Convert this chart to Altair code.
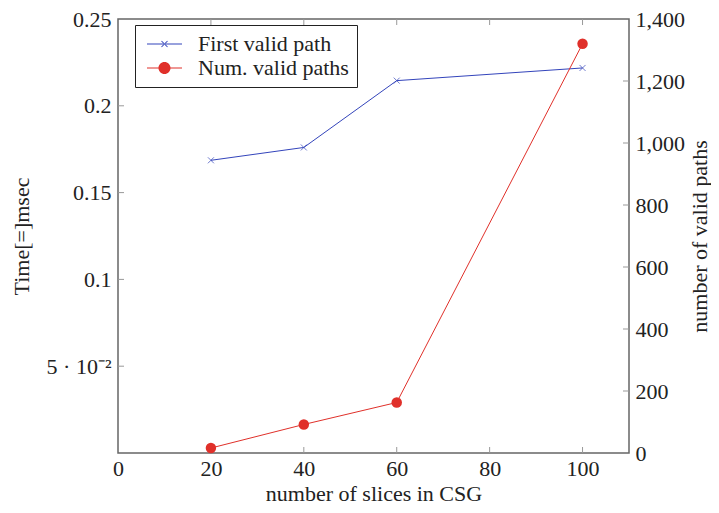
import altair as alt
import pandas as pd

# ---- data ----
slices = [20, 40, 60, 100]
first_valid_time = [0.1686, 0.1760, 0.2145, 0.2218]
num_valid_paths = [16, 92, 163, 1320]
series_names = ["First valid path", "Num. valid paths"]
series_colors = ["#3344bb", "#e0302a"]

x_ticks = [0, 20, 40, 60, 80, 100]
left_ticks = [0.05, 0.1, 0.15, 0.2, 0.25]
right_ticks = [0, 200, 400, 600, 800, 1000, 1200, 1400]

FONT = "Liberation Serif"
FS = 22
W, H = 511, 434
TICK_COLOR = "#999999"

blue_df = pd.DataFrame({"x": slices, "y": first_valid_time})
red_df = pd.DataFrame({"x": slices, "y": num_valid_paths})
legend_df = pd.DataFrame({"series": series_names, "x": [-50, -50], "y": [-1, -1]})

xscale = alt.Scale(domain=[0, 110], nice=False, zero=False)
yl_scale = alt.Scale(domain=[0, 0.25], nice=False)
yr_scale = alt.Scale(domain=[0, 1400], nice=False)

x_axis = alt.Axis(values=x_ticks, ticks=False, tickSize=0, domain=False, grid=False,
                  labelFlush=False,
                  labelFont=FONT, labelFontSize=FS, labelColor="#222", labelPadding=5,
                  title="number of slices in CSG", titleFont=FONT, titleFontSize=FS,
                  titleFontWeight="normal", titleColor="#222", titleX=W / 2, titleY=40,
                  titleBaseline="middle", titleAlign="center")

yl_axis = alt.Axis(values=left_ticks, ticks=False, tickSize=0, domain=False, grid=False,
                   labelFlush=False,
                   labelExpr="datum.value == 0.05 ? '5 · 10⁻²' : format(datum.value, '.2~f')",
                   labelFont=FONT, labelFontSize=FS, labelColor="#222", labelPadding=7,
                   labelBaseline="middle",
                   title="Time[=]msec", titleFont=FONT, titleFontSize=FS,
                   titleFontWeight="normal", titleColor="#222", titleAngle=270,
                   titleX=-97, titleY=H / 2, titleBaseline="middle", titleAlign="center")

yr_axis = alt.Axis(values=right_ticks, ticks=False, tickSize=0, domain=False, grid=False,
                   labelFlush=False, format=",d", orient="right",
                   labelFont=FONT, labelFontSize=FS, labelColor="#222", labelPadding=6,
                   labelBaseline="middle",
                   title="number of valid paths", titleFont=FONT, titleFontSize=FS,
                   titleFontWeight="normal", titleColor="#222", titleAngle=270,
                   titleX=70, titleY=H / 2, titleBaseline="middle", titleAlign="center")

# ---- blue (left axis) ----
blue_line = alt.Chart(blue_df).mark_line(color=series_colors[0], strokeWidth=1).encode(
    x=alt.X("x:Q", scale=xscale, axis=x_axis),
    y=alt.Y("y:Q", scale=yl_scale, axis=yl_axis),
)
blue_pts = alt.Chart(blue_df).mark_point(
    shape="M-1,-1L1,1M-1,1L1,-1", size=36, color=series_colors[0], strokeWidth=1, filled=False
).encode(x=alt.X("x:Q", scale=xscale), y=alt.Y("y:Q", scale=yl_scale))

# inward ticks drawn through the scales
xt_df = pd.DataFrame({"x": x_ticks[1:]})
bottom_ticks = alt.Chart(xt_df).mark_rule(color=TICK_COLOR, strokeWidth=1).encode(
    x=alt.X("x:Q", scale=xscale), y=alt.value(H), y2=alt.value(H - 6))
top_ticks = alt.Chart(xt_df).mark_rule(color=TICK_COLOR, strokeWidth=1).encode(
    x=alt.X("x:Q", scale=xscale), y=alt.value(0), y2=alt.value(6))
lt_df = pd.DataFrame({"y": left_ticks[:-1]})
left_tick_marks = alt.Chart(lt_df).mark_rule(color=TICK_COLOR, strokeWidth=1).encode(
    y=alt.Y("y:Q", scale=yl_scale), x=alt.value(0), x2=alt.value(6))

# legend symbols: line + marker (unit = 7px at symbolSize 196)
line_p = "M-1,-0.07H4V0.07H-1Z"
x_p = ("M1.02,-0.38L1.88,0.48L1.98,0.38L1.12,-0.48Z"
       "M1.02,0.38L1.12,0.48L1.98,-0.38L1.88,-0.48Z")
circ_p = "M2.36,0A0.86,0.86 0 1,1 0.64,0A0.86,0.86 0 1,1 2.36,0Z"
legend_layer = alt.Chart(legend_df).mark_point(filled=True, clip=True, strokeWidth=0, opacity=1).encode(
    x=alt.X("x:Q", scale=xscale),
    y=alt.Y("y:Q", scale=yl_scale),
    color=alt.Color("series:N", scale=alt.Scale(domain=series_names, range=series_colors),
                    legend=alt.Legend(title=None, orient="none", legendX=17, legendY=6)),
    shape=alt.Shape("series:N", scale=alt.Scale(domain=series_names, range=[line_p + x_p, line_p + circ_p])),
)

blue_group = alt.layer(blue_line, blue_pts, bottom_ticks, top_ticks, left_tick_marks, legend_layer)

# ---- red (right axis) ----
red_line = alt.Chart(red_df).mark_line(color=series_colors[1], strokeWidth=1).encode(
    x=alt.X("x:Q", scale=xscale),
    y=alt.Y("y:Q", scale=yr_scale, axis=yr_axis),
)
red_pts = alt.Chart(red_df).mark_circle(size=110, color=series_colors[1], opacity=1).encode(
    x=alt.X("x:Q", scale=xscale), y=alt.Y("y:Q", scale=yr_scale))
rt_df = pd.DataFrame({"y": right_ticks[1:-1]})
right_tick_marks = alt.Chart(rt_df).mark_rule(color=TICK_COLOR, strokeWidth=1).encode(
    y=alt.Y("y:Q", scale=yr_scale), x=alt.value(W - 6), x2=alt.value(W))
red_group = alt.layer(red_line, red_pts, right_tick_marks)

chart = alt.layer(blue_group, red_group).resolve_scale(y="independent").properties(
    width=W, height=H,
    autosize=alt.AutoSizeParams(type="none"),
    padding={"left": 110, "top": 11, "right": 82, "bottom": 52},
    background="white",
).configure_view(stroke="#666666", strokeWidth=1.5).configure_legend(
    fillColor="white", strokeColor="#222222", strokeWidth=1, padding=8, cornerRadius=0,
    labelFont=FONT, labelFontSize=FS, labelColor="#222", labelOffset=33,
    symbolSize=196, symbolStrokeWidth=0, rowPadding=2, labelLimit=400,
)

chart.save("out.html", embed_options={"renderer": "svg", "actions": False})
